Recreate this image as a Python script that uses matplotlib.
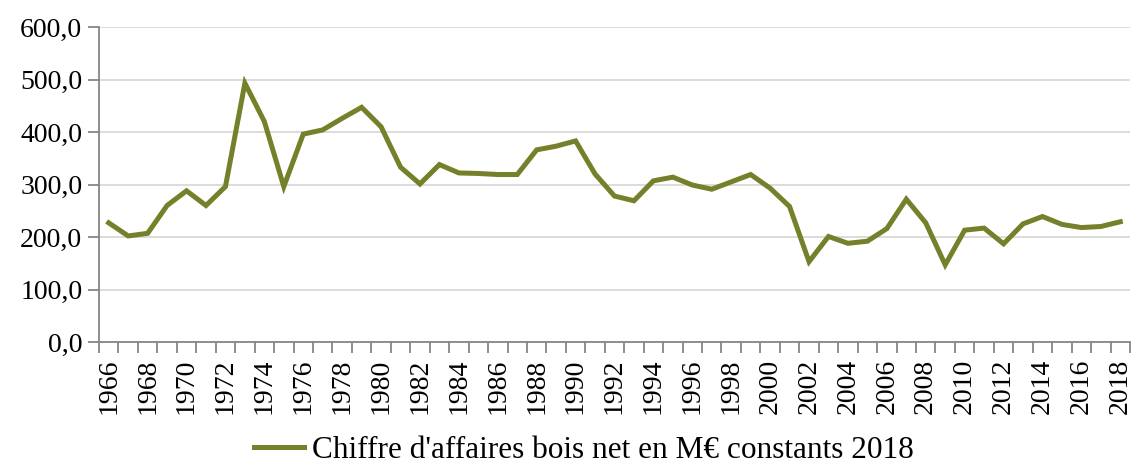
import matplotlib
matplotlib.use("Agg")
import matplotlib.pyplot as plt
import numpy as np

# Data
years = list(range(1966, 2019))
revenue = [227, 202, 207, 260, 288, 260, 296, 493, 420, 296,
           396, 404, 426, 447, 410, 333, 301, 338, 322, 321,
           319, 319, 366, 373, 383, 320, 278, 269, 307, 314,
           299, 291, 305, 319, 293, 258, 153, 201, 188, 192,
           216, 272, 227, 147, 213, 217, 187, 225, 239, 224,
           218, 220, 229]
series_label = "Chiffre d'affaires bois net en M€ constants 2018"
y_ticks = [0, 100, 200, 300, 400, 500, 600]

plt.rcParams['font.family'] = ['Liberation Serif', 'DejaVu Serif']

fig = plt.figure(figsize=(11.38, 4.70), dpi=100)
ax = fig.add_axes([99 / 1138, 1 - 342 / 470, (1130 - 99) / 1138, (342 - 27) / 470])

x = np.arange(len(years))
ax.plot(x, revenue, color='#76802a', linewidth=3.6, solid_joinstyle='miter',
        label=series_label, zorder=3)

ax.set_xlim(-0.5, len(years) - 0.5)
ax.set_ylim(0, 600)

# y axis
ax.set_yticks(y_ticks)
ax.set_yticklabels([f"{v:.1f}".replace('.', ',') for v in y_ticks], fontsize=20)
ax.yaxis.grid(True, color='#d9d9d9', linewidth=1.3, zorder=0)
ax.tick_params(axis='y', length=8, width=1.3, color='#868686', pad=4)

# x axis: tick marks between categories, labels on even years
ax.set_xticks(np.arange(-0.5, len(years), 1.0))
ax.set_xticklabels([])
ax.tick_params(axis='x', which='major', length=8, width=1.3, color='#868686')
label_idx = x[::2]
ax.set_xticks(label_idx, minor=True)
ax.set_xticklabels([str(years[i]) for i in label_idx], minor=True,
                   rotation=90, fontsize=20)
ax.tick_params(axis='x', which='minor', length=0, pad=12)

for side in ['top', 'right']:
    ax.spines[side].set_visible(False)
for side in ['left', 'bottom']:
    ax.spines[side].set_color('#868686')
    ax.spines[side].set_linewidth(1.3)

fig.legend(loc='lower center', bbox_to_anchor=(0.513, -0.05), frameon=False,
           fontsize=22.5, handlelength=1.6, handletextpad=0.25)

fig.savefig('out.png', dpi=100)
